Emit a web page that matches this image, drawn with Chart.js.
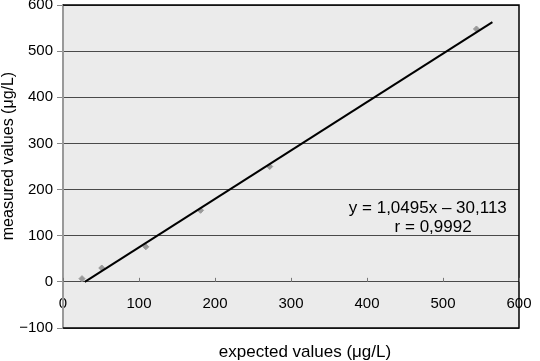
<!DOCTYPE html>
<html>
<head>
<meta charset="utf-8">
<script src="https://cdn.jsdelivr.net/npm/chart.js@4/dist/chart.umd.min.js"></script>
<style>
  body { margin: 0; background: #fff; }
  #wrap { width: 540px; height: 361px; }
</style>
</head>
<body>
<div id="wrap"><canvas id="myChart" width="540" height="361"></canvas></div>
<script>
// measured points
var expected = [25, 51, 109, 181, 272, 544];
var measured = [7, 30, 76, 155, 250, 548];
// regression line ends
var lineX = [28.7, 565];
var lineY = [0, 563];
var xTicks = [0, 100, 200, 300, 400, 500, 600];
var yTicks = [-100, 0, 100, 200, 300, 400, 500, 600];
var eqText = ["y = 1,0495x \u2013 30,113", "r = 0,9992"];
var xTitle = "expected values (\u03bcg/L)";
var yTitle = "measured values (\u03bcg/L)";

var FONT = "'Liberation Sans', Arial, Helvetica, sans-serif";

var points = expected.map(function(x, i) { return {x: x, y: measured[i]}; });
var trend = lineX.map(function(x, i) { return {x: x, y: lineY[i]}; });

// plot background, frame, titles and equation
var decor = {
    id: 'decor',
    beforeDraw: function(chart) {
        var a = chart.chartArea, ctx = chart.ctx;
        ctx.save();
        ctx.fillStyle = '#ebebeb';
        ctx.fillRect(a.left, a.top, a.right - a.left, a.bottom - a.top);
        ctx.restore();
    },
    afterDraw: function(chart) {
        var a = chart.chartArea, ctx = chart.ctx;
        var xs = chart.scales.x, ys = chart.scales.y;
        ctx.save();
        ctx.strokeStyle = '#000';
        ctx.lineWidth = 1.5;
        ctx.beginPath();
        ctx.moveTo(a.left, a.top);
        ctx.lineTo(a.right, a.top);
        ctx.lineTo(a.right, a.bottom);
        ctx.lineTo(a.left, a.bottom);
        ctx.stroke();

        // small tick marks on the x axis, pointing up
        ctx.strokeStyle = '#777';
        ctx.lineWidth = 1;
        var y0 = ys.getPixelForValue(0);
        xTicks.forEach(function(v) {
            var px = Math.round(xs.getPixelForValue(v)) + 0.5;
            ctx.beginPath();
            ctx.moveTo(px, y0);
            ctx.lineTo(px, y0 - 4);
            ctx.stroke();
        });

        ctx.fillStyle = '#000';
        ctx.font = '17px ' + FONT;
        ctx.textAlign = 'center';
        ctx.textBaseline = 'middle';
        ctx.fillText(eqText[0], xs.getPixelForValue(480), ys.getPixelForValue(160));
        ctx.fillText(eqText[1], xs.getPixelForValue(487), ys.getPixelForValue(119));

        ctx.fillText(xTitle, 305, 352);
        ctx.font = '16px ' + FONT;
        ctx.translate(9, 156);
        ctx.rotate(-Math.PI / 2);
        ctx.fillText(yTitle, 0, 0);
        ctx.restore();
    }
};

function minusSign(v) {
    return String(v).replace('-', '\u2212');
}

var ctx = document.getElementById('myChart').getContext('2d');
var chart = new Chart(ctx, {
    type: 'scatter',
    data: {
        datasets: [{
            label: 'measured',
            data: points,
            pointStyle: 'rectRot',
            pointRadius: 3,
            backgroundColor: '#9a9a9a',
            borderColor: '#9a9a9a',
            order: 2
        }, {
            label: 'fit',
            data: trend,
            showLine: true,
            pointRadius: 0,
            borderColor: '#000',
            borderWidth: 2,
            order: 1
        }]
    },
    options: {
        responsive: false,
        animation: false,
        layout: { padding: { top: 4, right: 21, bottom: 33, left: 0 } },
        plugins: { legend: { display: false }, tooltip: { enabled: false } },
        scales: {
            x: {
                type: 'linear',
                position: { y: 0 },
                min: 0, max: 600,
                afterBuildTicks: function(s) { s.ticks = xTicks.map(function(v) { return {value: v}; }); },
                afterFit: function(s) { s.paddingLeft = 0; s.paddingRight = 0; },
                grid: { drawOnChartArea: false, drawTicks: false },
                border: { display: false },
                ticks: { padding: 13, color: '#000', font: { size: 15, family: FONT } }
            },
            y: {
                type: 'linear',
                min: -100, max: 600,
                afterBuildTicks: function(s) { s.ticks = yTicks.map(function(v) { return {value: v}; }); },
                afterFit: function(s) { s.width = 63; s.paddingTop = 0; s.paddingBottom = 0; },
                grid: { color: '#4a4a4a', lineWidth: 1, tickLength: 6, tickColor: '#888' },
                border: { display: true, color: '#999', width: 2 },
                ticks: { padding: 4, color: '#000', font: { size: 15, family: FONT }, callback: minusSign }
            }
        }
    },
    plugins: [decor]
});
</script>
</body>
</html>
